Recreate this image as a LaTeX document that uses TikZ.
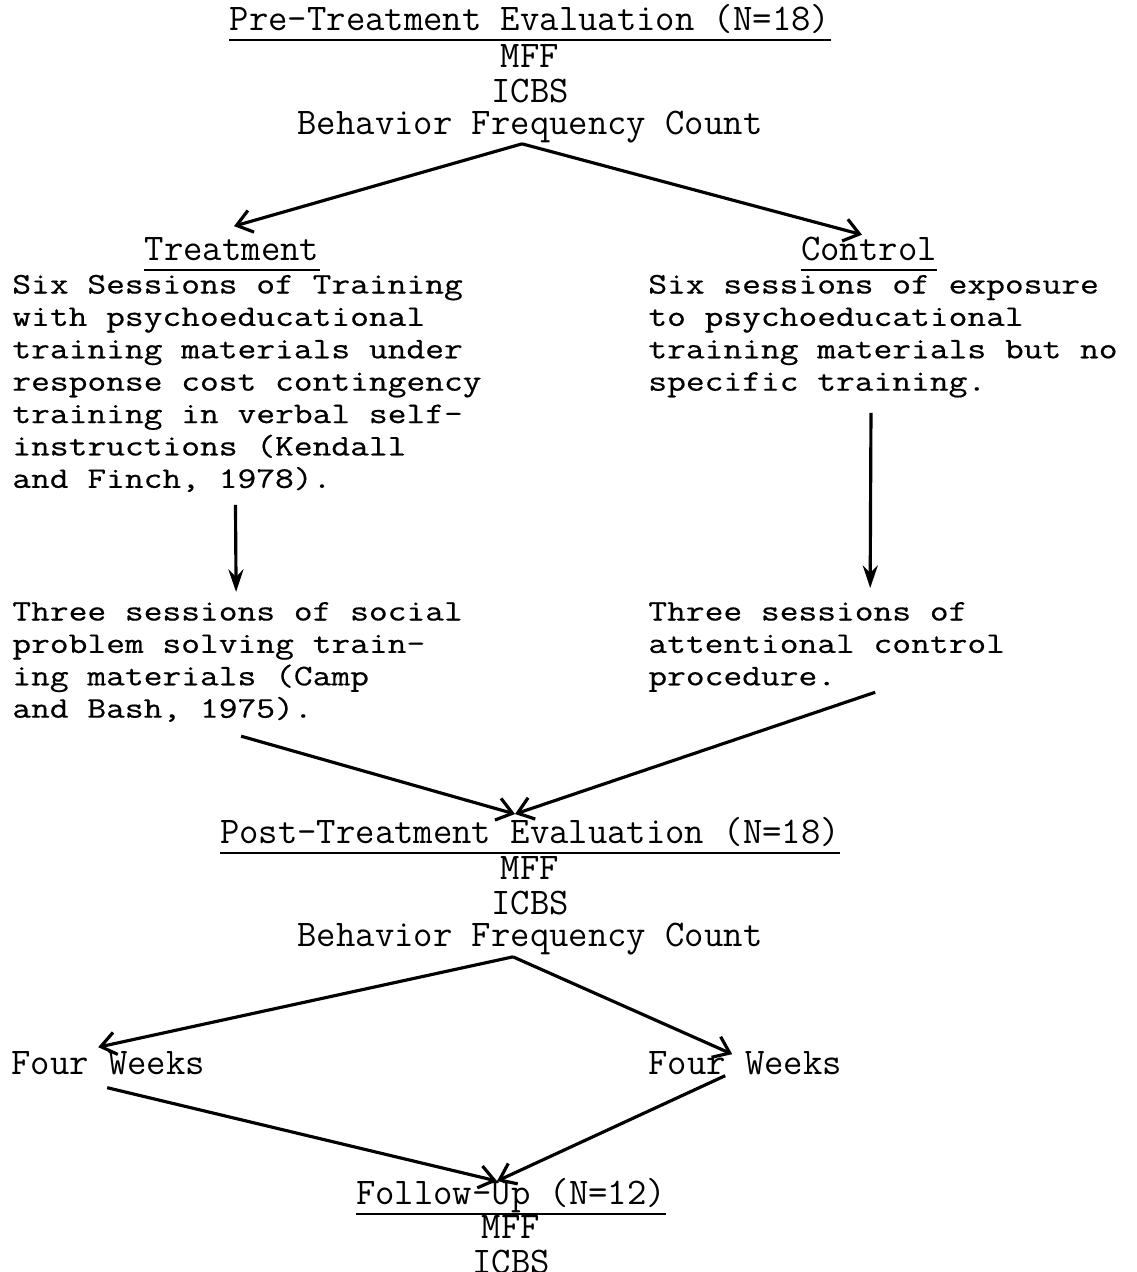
\documentclass[tikz,border=0pt]{standalone}
\usepackage{fontspec}
\usepackage{tikz}
\usetikzlibrary{arrows.meta,calc}

\newfontfamily\typefont[FakeStretch=1.22,FakeBold=0.5]{Latin Modern Mono}
\newcommand{\headtype}{\ttfamily\fontsize{21.4}{18.43}\selectfont}
\newcommand{\bodytype}{\typefont\fontsize{17}{18.43}\selectfont}

\begin{document}
\begin{tikzpicture}[
  head/.style={font=\headtype, inner sep=0, anchor=base, text depth=0.18cm},
  meas/.style={font=\headtype, inner sep=0, anchor=north, align=center},
  body/.style={font=\bodytype, inner sep=0, anchor=north west, align=left},
  wk/.style={font=\headtype, inner sep=0, anchor=base west},
  arr/.style={line width=1.8pt, -{Straight Barb[length=3mm,width=4.5mm]}},
  varr/.style={line width=1.8pt, -{Stealth[length=4.5mm,width=3mm]}},
  uline/.style={line width=1.1pt}
]

\useasboundingbox (0,0) rectangle (22.72,25.44);

\node[head] (pre) at (10.6,24.82) {Pre-Treatment Evaluation (N=18)};
\node[meas] (premeas) at (10.6,24.554) {\strut MFF\\ICBS\\Behavior Frequency Count};

\node[head] (treat) at (4.64,20.22) {Treatment};
\node[head] (ctrl) at (17.38,20.22) {Control};

\node[body] (treatbody) at (0.24,20.03) {\strut Six Sessions of Training\\
with psychoeducational\\
training materials under\\
response cost contingency\\
training in verbal self-\\
instructions (Kendall\\
and Finch, 1978).};
\node[body] (ctrlbody) at (12.96,20.03) {\strut Six sessions of exposure\\
to psychoeducational\\
training materials but no\\
specific training.};

\node[body] (social) at (0.24,13.49) {\strut Three sessions of social\\
problem solving train-\\
ing materials (Camp\\
and Bash, 1975).};
\node[body] (attn) at (12.96,13.49) {\strut Three sessions of\\
attentional control\\
procedure.};

\node[head] (post) at (10.6,8.56) {Post-Treatment Evaluation (N=18)};
\node[meas] (postmeas) at (10.6,8.314) {\strut MFF\\ICBS\\Behavior Frequency Count};

\node[wk] (wkl) at (0.22,3.94) {Four Weeks};
\node[wk] (wkr) at (12.96,3.94) {Four Weeks};

\node[head] (follow) at (10.22,1.34) {Follow-Up (N=12)};
\node[meas] (followmeas) at (10.22,1.134) {\strut MFF\\ICBS};

\foreach \n in {pre,treat,ctrl,post,follow}{
	\draw[uline] (\n.south west)--(\n.south east);
}

\draw[arr] ($(premeas.south)+(-0.16,0)$)--($(treat.north)+(0.04,0.23)$);
\draw[arr] ($(premeas.south)+(-0.16,0)$)--($(ctrl.north)+(-0.14,0.05)$);

\draw[varr] ($(treatbody.south)+(-0.23,-0.25)$)--($(social.north)+(-0.03,0.11)$);
\draw[varr] ($(ctrlbody.south)+(-0.24,-0.30)$)--($(attn.north)+(0.87,0.19)$);

\draw[arr] ($(social.south)+(0.07,-0.28)$)--($(post.north)+(-0.30,0.07)$);
\draw[arr] ($(attn.south)+(0.97,0)$)--($(post.north)+(-0.30,0.07)$);

\draw[arr] ($(postmeas.south)+(-0.34,-0.02)$)--($(wkl.north)+(-0.20,0.09)$);
\draw[arr] ($(postmeas.south)+(-0.34,-0.02)$)--($(wkr.north)+(-0.26,-0.05)$);

\draw[arr] ($(wkl.south)+(-0.02,-0.24)$)--($(follow.north)+(-0.28,-0.05)$);
\draw[arr] ($(wkr.south)+(-0.40,0)$)--($(follow.north)+(-0.28,-0.05)$);

\end{tikzpicture}
\end{document}
